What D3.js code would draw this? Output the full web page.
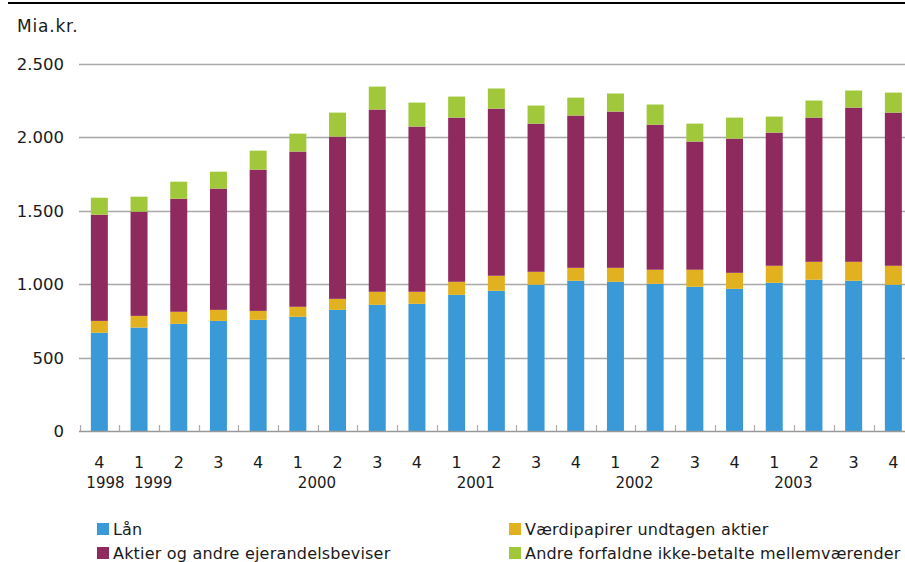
<!DOCTYPE html>
<html>
<head>
<meta charset="utf-8">
<script src="https://cdn.jsdelivr.net/npm/d3@7"></script>
<style>
  html, body { margin: 0; padding: 0; background: #fff; }
  svg { display: block; }
  text { font-family: "DejaVu Sans", sans-serif; fill: #1a1a1a; }
</style>
</head>
<body>
<svg id="chart" width="905" height="562"></svg>
<script>
// ---- data ----
const quarters = ["4","1","2","3","4","1","2","3","4","1","2","3","4","1","2","3","4","1","2","3","4"];
const yearLabels = ["1998", "1999", "2000", "2001", "2002", "2003"];
const yearAt =     [0, 1, 5, 9, 13, 17];
const laan =        [668, 704, 729, 749, 756, 777, 824, 858, 865, 926, 954, 995, 1022, 1015, 1001, 981, 967, 1008, 1029, 1022, 995];
const vaerdipapir = [ 81,  79,  82,  75,  61,  68,  75,  89,  82,  89, 102,  88,   88,   95,   96, 116, 109,  116,  122,  129, 129];
const aktier =      [722, 709, 769, 825, 961,1056,1104,1240,1124,1117,1137,1008, 1036, 1063,  987, 872, 913,  906,  981, 1049,1042];
const andre =       [116, 102, 116, 115, 129, 122, 163, 156, 163, 143, 137, 123,  122,  123,  137, 122, 143,  109,  116,  116, 136];
const seriesNames = ["Lån", "Værdipapirer undtagen aktier", "Aktier og andre ejerandelsbeviser", "Andre forfaldne ikke-betalte mellemværender"];
const seriesKeys = ["laan", "vaerdi", "aktier", "andre"];
const colors = ["#3a9ad8", "#e2b11f", "#8f2a5f", "#a1c83a"];
const yTicks = [0, 500, 1000, 1500, 2000, 2500];
const yUnit = "Mia.kr.";

// ---- build table ----
const table = quarters.map((q, i) => ({
  idx: i, laan: laan[i], vaerdi: vaerdipapir[i], aktier: aktier[i], andre: andre[i]
}));

const svg = d3.select("#chart");
const left = 79.5, step = 39.7;
const x = d3.scaleBand()
  .domain(table.map(d => d.idx))
  .range([left, left + step * quarters.length])
  .paddingInner(0.572).paddingOuter(0.286);
const y = d3.scaleLinear().domain([0, 2500]).range([431, 63.5]);

// top rule
svg.append("line").attr("x1", 8).attr("x2", 905).attr("y1", 3).attr("y2", 3)
  .attr("stroke", "#000").attr("stroke-width", 2);

// unit
svg.append("text").attr("x", 17).attr("y", 32).attr("font-size", 17)
  .attr("letter-spacing", 0.8).text(yUnit);

// gridlines
svg.append("g").selectAll("line").data(yTicks.filter(t => t > 0)).join("line")
  .attr("x1", 79).attr("x2", 905)
  .attr("y1", d => Math.round(y(d)) + 0.5).attr("y2", d => Math.round(y(d)) + 0.5)
  .attr("stroke", "#a8a8a8").attr("stroke-width", 1.5);

// y labels
svg.append("g").selectAll("text").data(yTicks).join("text")
  .attr("x", 64).attr("y", d => y(d) + 6).attr("text-anchor", "end")
  .attr("font-size", 16.5).text(d => d3.format(",")(d).replace(/,/g, "."));

// bars
const stack = d3.stack().keys(seriesKeys)(table);
svg.append("g").selectAll("g").data(stack).join("g")
  .attr("fill", (d, i) => colors[i])
  .selectAll("rect").data(d => d).join("rect")
  .attr("x", d => x(d.data.idx))
  .attr("width", x.bandwidth())
  .attr("y", d => y(d[1]))
  .attr("height", d => y(d[0]) - y(d[1]));

// x axis line and ticks
svg.append("line").attr("x1", 79).attr("x2", 905).attr("y1", 431.5).attr("y2", 431.5)
  .attr("stroke", "#999").attr("stroke-width", 1.5);
const boundaries = d3.range(quarters.length).map(i => left + step * i);
svg.append("g").selectAll("line").data(boundaries).join("line")
  .attr("x1", d => Math.round(d) + 0.5).attr("x2", d => Math.round(d) + 0.5)
  .attr("y1", 425).attr("y2", 431)
  .attr("stroke", "#aaa").attr("stroke-width", 1.2);

// quarter labels
const cx = i => x(i) + x.bandwidth() / 2;
svg.append("g").selectAll("text").data(quarters).join("text")
  .attr("x", (d, i) => cx(i)).attr("y", 468).attr("text-anchor", "middle")
  .attr("font-size", 16).text(d => d);

// year labels (left-aligned near first quarter of each year)
const yearDx = [-13, -5, 0, 0, 0, 0];
svg.append("g").selectAll("text").data(yearLabels).join("text")
  .attr("x", (d, i) => cx(yearAt[i]) + yearDx[i])
  .attr("y", 488).attr("text-anchor", "start")
  .attr("font-size", 15).text(d => d);

// legend
const legendPos = [
  { k: 0, x: 97, y: 529 },
  { k: 1, x: 509, y: 529 },
  { k: 2, x: 97, y: 553 },
  { k: 3, x: 509, y: 553 }
];
const lg = svg.append("g").selectAll("g").data(legendPos).join("g")
  .attr("transform", d => `translate(${d.x},${d.y})`);
lg.append("rect").attr("x", 0).attr("y", -6).attr("width", 12).attr("height", 12)
  .attr("fill", d => colors[d.k]);
lg.append("text").attr("x", 16).attr("y", 6).attr("font-size", 16)
  .attr("letter-spacing", 0.2)
  .text(d => seriesNames[d.k]);
</script>
</body>
</html>
